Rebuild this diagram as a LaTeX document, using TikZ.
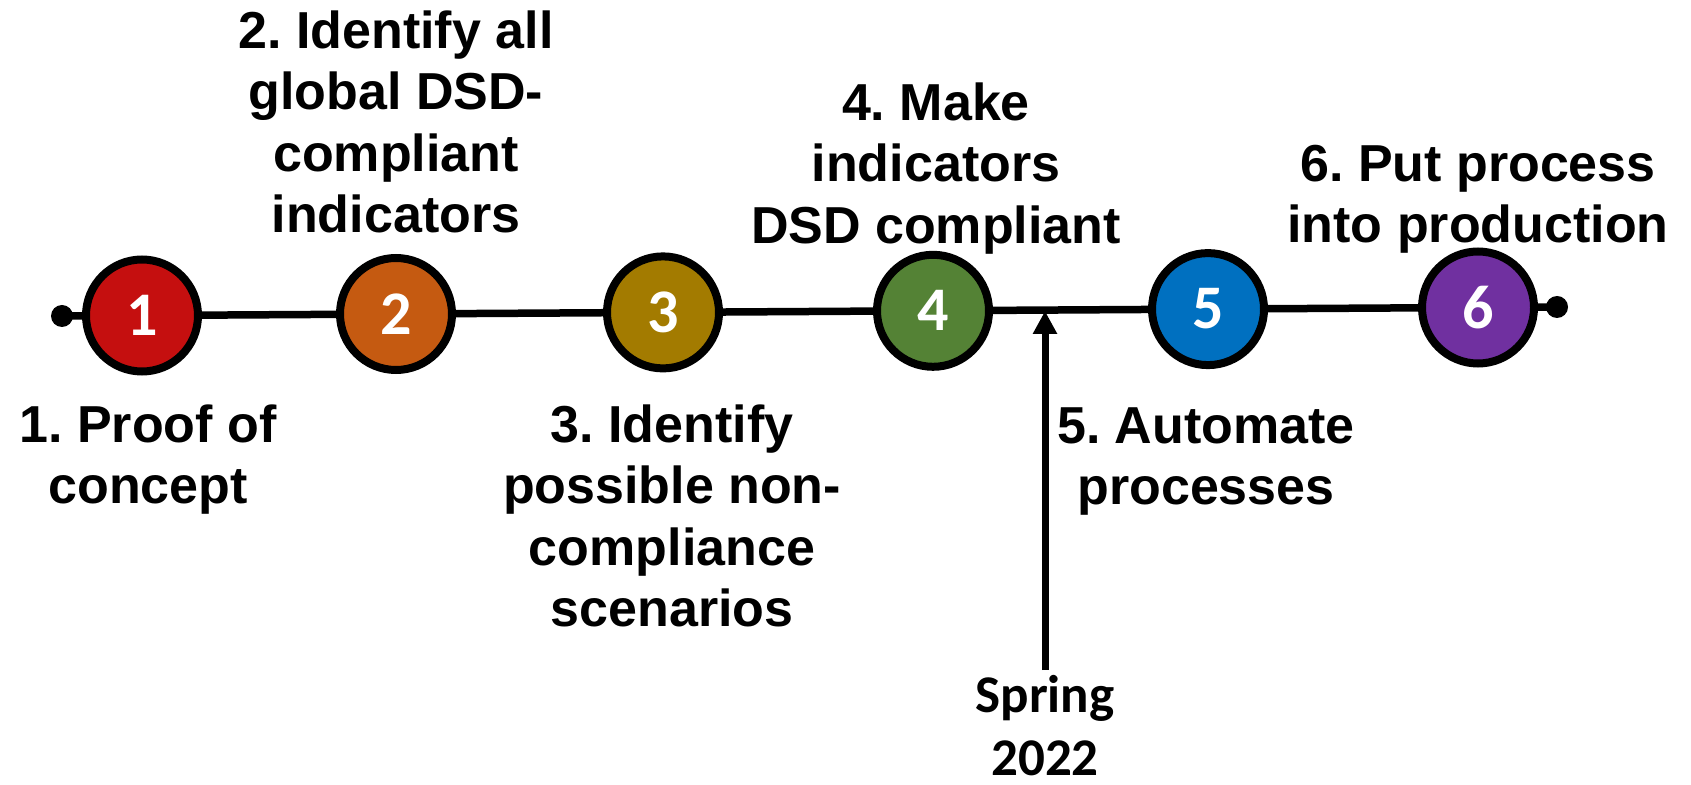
\documentclass[tikz,border=0pt]{standalone}
\usepackage{fontspec}
\setmainfont{Liberation Sans}
\newfontfamily\calib{Carlito}
\usetikzlibrary{arrows.meta}
\definecolor{cA}{HTML}{C50F0F}
\definecolor{cB}{HTML}{C55A11}
\definecolor{cC}{HTML}{A37B00}
\definecolor{cD}{HTML}{548235}
\definecolor{cE}{HTML}{0070C0}
\definecolor{cF}{HTML}{7030A0}
\frenchspacing
\begin{document}
\begin{tikzpicture}[x=0.5pt,y=-0.5pt,
  lab/.style={anchor=north, inner sep=0pt, align=center,
    font=\fontsize{26pt}{30.75pt}\selectfont\bfseries\frenchspacing},
  num/.style={circle, draw=black, line width=4pt, minimum size=56pt, inner sep=0pt,
    text=white, font=\calib\fontsize{31pt}{31pt}\selectfont\bfseries},
  enddot/.style={circle, fill=black, minimum size=11pt, inner sep=0pt},
  axis/.style={line width=3.75pt, black},
  pointer/.style={line width=3.5pt, black, -{Triangle[width=11.5pt,length=11.5pt]}}]
\useasboundingbox (0,0) rectangle (1691,785);
% end dots
\node[enddot] (dl) at (62,316) {};
\node[enddot] (dr) at (1557,307) {};
\draw[axis] (dl.center) -- (dr.center);
% circles
\node[num, fill=cA] (c1) at (142,315.5) {1};
\node[num, fill=cB] (c2) at (396,314) {2};
\node[num, fill=cC] (c3) at (663,312.4) {3};
\node[num, fill=cD] (c4) at (933,310.8) {4};
\node[num, fill=cE] (c5) at (1208,309.1) {5};
\node[num, fill=cF] (c6) at (1478,307.5) {6};
% labels
\node[lab] (l1) at (148,402) {\rule{0pt}{20pt}1. Proof of\\concept};
\node[lab] (l2) at (396,8) {\rule{0pt}{20pt}2. Identify all\\global DSD-\\compliant\\indicators};
\node[lab] (l3) at (672,402) {\rule{0pt}{20pt}3. Identify\\possible non-\\compliance\\scenarios};
\node[lab] (l4) at (936,80) {\rule{0pt}{20pt}4. Make\\indicators\\DSD compliant};
\node[lab] (l5) at (1206,403) {\rule{0pt}{20pt}5. Automate\\processes};
\node[lab] (l6) at (1478,141) {\rule{0pt}{20pt}6. Put process\\into production};
% spring marker
\node[anchor=north, inner sep=0pt, align=center,
  font=\calib\fontsize{26.5pt}{31.5pt}\selectfont\bfseries] (spring) at (1045,672)
  {\rule{0pt}{20pt}Spring\\2022};
\coordinate (tip) at (1045,311);
\draw[pointer] (spring.north) ++(0,-2) -- (tip);
\end{tikzpicture}
\end{document}
